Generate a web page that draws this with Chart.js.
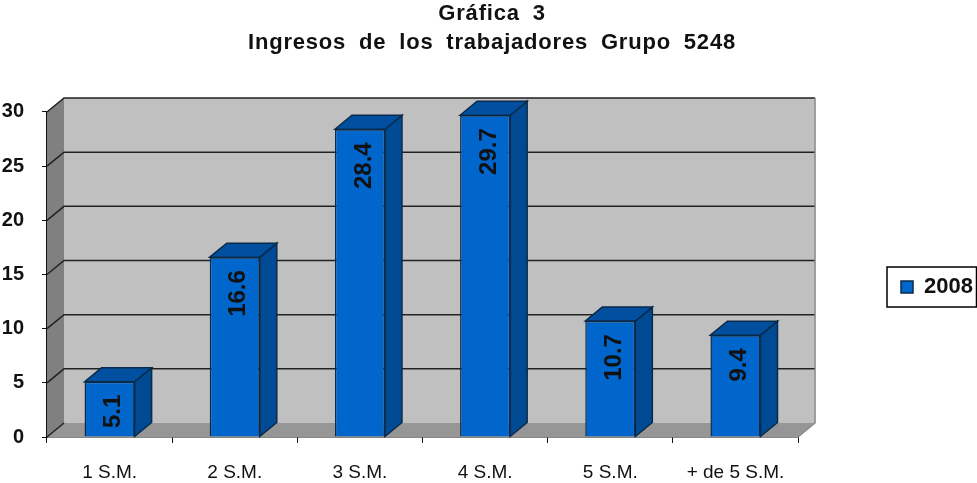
<!DOCTYPE html>
<html>
<head>
<meta charset="utf-8">
<style>
    body { margin: 0; background: #fff; }
    #wrap { width: 977px; height: 483px; }
</style>
<script src="https://cdn.jsdelivr.net/npm/chart.js@4"></script>
</head>
<body>
<div id="wrap"><canvas id="myChart"></canvas></div>
<script>
const categories = ['1 S.M.', '2 S.M.', '3 S.M.', '4 S.M.', '5 S.M.', '+ de 5 S.M.'];
const values2008 = [5.1, 16.6, 28.4, 29.7, 10.7, 9.4];
const yTicks = [0, 5, 10, 15, 20, 25, 30];
const titleLines = ['Gráfica 3', 'Ingresos de los trabajadores Grupo 5248'];

const FONT = '"Liberation Sans", Arial, sans-serif';
const INK = '#111';
// profondeur de l'effet 3D
const DX = 17;
const DY = -14;

function quad(ctx, pts, fill, stroke) {
    ctx.beginPath();
    ctx.moveTo(pts[0][0], pts[0][1]);
    pts.slice(1).forEach(p => ctx.lineTo(p[0], p[1]));
    ctx.closePath();
    ctx.fillStyle = fill;
    ctx.fill();
    if (stroke) {
        ctx.strokeStyle = stroke;
        ctx.lineWidth = 1.5;
        ctx.stroke();
    }
}

// murs, sol et lignes de grille derrière les barres
const wallsPlugin = {
    id: 'walls',
    beforeDatasetsDraw(chart) {
        const { ctx, chartArea: a, scales: { y } } = chart;
        const bottom = y.getPixelForValue(0);
        const top = y.getPixelForValue(30);
        ctx.save();
        quad(ctx, [[a.left + DX, top + DY], [a.right + DX, top + DY], [a.right + DX, bottom + DY], [a.left + DX, bottom + DY]], '#c0c0c0');
        quad(ctx, [[a.left, top], [a.left + DX, top + DY], [a.left + DX, bottom + DY], [a.left, bottom]], '#808080');
        quad(ctx, [[a.left, bottom], [a.left + DX, bottom + DY], [a.right + DX, bottom + DY], [a.right, bottom]], '#969696');
        ctx.strokeStyle = '#222';
        ctx.lineWidth = 1.5;
        yTicks.forEach(v => {
            const py = y.getPixelForValue(v);
            ctx.beginPath();
            ctx.moveTo(a.left, py);
            ctx.lineTo(a.left + DX, py + DY);
            if (v > 0) ctx.lineTo(a.right + DX, py + DY);
            ctx.stroke();
        });
        ctx.strokeStyle = '#8a8a8a';
        ctx.beginPath();
        ctx.moveTo(a.right + DX, top + DY);
        ctx.lineTo(a.right + DX, bottom + DY);
        ctx.lineTo(a.right, bottom);
        ctx.stroke();
        // faces de côté et de dessus des barres
        chart.getDatasetMeta(0).data.forEach(bar => {
            const l = bar.x - bar.width / 2;
            const r = bar.x + bar.width / 2;
            quad(ctx, [[r, bar.y], [r + DX, bar.y + DY], [r + DX, bar.base + DY], [r, bar.base]], '#004a94', '#0a2a4a');
            quad(ctx, [[l, bar.y], [l + DX, bar.y + DY], [r + DX, bar.y + DY], [r, bar.y]], '#00509f', '#0a2a4a');
        });
        ctx.restore();
    },
    afterDatasetsDraw(chart) {
        // valeurs écrites à la verticale dans les barres
        const { ctx } = chart;
        ctx.save();
        ctx.fillStyle = INK;
        ctx.font = 'bold 24px ' + FONT;
        ctx.textAlign = 'right';
        ctx.textBaseline = 'middle';
        chart.getDatasetMeta(0).data.forEach((bar, i) => {
            ctx.save();
            ctx.translate(bar.x + 4, bar.y + 13);
            ctx.rotate(-Math.PI / 2);
            ctx.fillText(values2008[i].toFixed(1), 0, 0);
            ctx.restore();
        });
        ctx.restore();
    }
};

// place le titre et la légende, dessine le cadre de la légende
const layoutPlugin = {
    id: 'layoutTweaks',
    afterLayout(chart) {
        const lg = chart.legend;
        const w = lg.right - lg.left;
        const h = lg.bottom - lg.top;
        lg.left = 891;
        lg.right = 891 + w;
        lg.top = 287 - h / 2;
        lg.bottom = 287 + h / 2;

        const tb = chart.titleBlock;
        tb.left = 0;
        tb.right = 984;
        if (!tb.spaced) {
            // titre espacé comme dans l'original
            const drawTitle = tb.draw;
            tb.draw = function () {
                chart.ctx.save();
                chart.ctx.letterSpacing = '0.8px';
                chart.ctx.wordSpacing = '6px';
                drawTitle.call(this);
                chart.ctx.restore();
            };
            tb.spaced = true;
        }
    },
    afterDraw(chart) {
        const { ctx } = chart;
        ctx.save();
        ctx.strokeStyle = '#000';
        ctx.lineWidth = 1.5;
        ctx.strokeRect(887, 267, 89.5, 40);
        ctx.restore();
    }
};

new Chart(document.getElementById('myChart'), {
    type: 'bar',
    data: {
        labels: categories,
        datasets: [{
            label: '2008',
            data: values2008,
            backgroundColor: '#0066cc',
            borderColor: '#0a2a4a',
            borderWidth: 1.5,
            barPercentage: 0.4,
            categoryPercentage: 1
        }]
    },
    plugins: [wallsPlugin, layoutPlugin],
    options: {
        responsive: true,
        maintainAspectRatio: false,
        animation: false,
        layout: { padding: { right: 87 } },
        plugins: {
            title: {
                display: true,
                text: titleLines,
                color: INK,
                font: { family: FONT, size: 22, weight: 'bold', lineHeight: 1.29 },
                padding: { top: 0, bottom: 55.2 }
            },
            legend: {
                position: 'right',
                labels: {
                    color: INK,
                    font: { family: FONT, size: 22, weight: 'bold' },
                    boxWidth: 12,
                    boxHeight: 12,
                    padding: 10
                }
            },
            tooltip: { enabled: false }
        },
        scales: {
            x: {
                afterFit(s) { s.height = 46; },
                grid: { offset: true, drawOnChartArea: false, color: INK, tickLength: 6, tickColor: INK },
                border: { color: INK, width: 1.5 },
                ticks: { color: INK, font: { family: FONT, size: 19 }, padding: 18 }
            },
            y: {
                min: 0,
                max: 30,
                afterFit(s) { s.width = 47; },
                afterBuildTicks(s) { s.ticks = yTicks.map(v => ({ value: v })); },
                grid: { drawOnChartArea: false, tickLength: 5, tickColor: INK },
                border: { color: INK, width: 1.5 },
                ticks: { color: INK, font: { family: FONT, size: 20, weight: 'bold' }, padding: 18 }
            }
        }
    }
});
</script>
</body>
</html>
